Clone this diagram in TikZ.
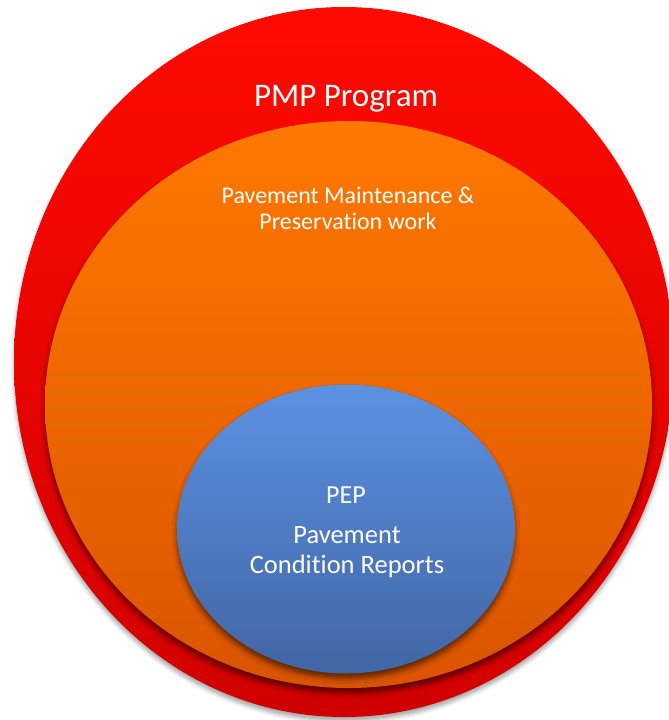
\documentclass[tikz,border=0pt]{standalone}
\usepackage{fontspec}
\setmainfont[Ligatures=NoCommon]{Carlito}
\usetikzlibrary{shadows.blur}

\definecolor{redtop}{HTML}{FF0A00}
\definecolor{redbot}{HTML}{D00000}
\definecolor{orgtop}{HTML}{FF7800}
\definecolor{orgbot}{HTML}{DA5400}
\definecolor{bluetop}{HTML}{5C91E2}
\definecolor{bluebot}{HTML}{4166A5}

\tikzset{
  disc/.style={draw=none},
  label text/.style={text=white, align=center, inner sep=0pt},
}

\begin{document}
\begin{tikzpicture}[x=1pt, y=-1pt]
  \useasboundingbox (0,0) rectangle (669,720);

  % outer programme disc
  \path[disc, top color=redtop, bottom color=redbot,
        blur shadow={shadow xshift=0pt, shadow yshift=-4pt, shadow blur radius=4pt, shadow opacity=35}]
    (344,362) ellipse [x radius=330, y radius=355];
  \coordinate (outer) at (344,362);

  % maintenance & preservation disc
  \path[disc, top color=orgtop, bottom color=orgbot,
        blur shadow={shadow xshift=0pt, shadow yshift=-5pt, shadow blur radius=5pt, shadow opacity=55}]
    (348.5,404.5) ellipse [x radius=303.5, y radius=283.5];
  \coordinate (middle) at (348.5,404.5);

  % condition report disc
  \path[disc, top color=bluetop, bottom color=bluebot,
        blur shadow={shadow xshift=0pt, shadow yshift=-5pt, shadow blur radius=5pt, shadow opacity=55}]
    (346,529) ellipse [x radius=169, y radius=144.5];
  \coordinate (inner) at (346,529);

  % labels
  \node[label text, font=\fontsize{33}{38}\selectfont] (pmp) at (346,99) {PMP Program};
  \node[label text, font=\fontsize{24}{26}\selectfont] (pmw) at (348,208)
    {Pavement Maintenance \&\\Preservation work};
  \node[label text, font=\fontsize{26}{30}\selectfont] (pep) at (346,495) {PEP};
  \node[label text, font=\fontsize{26.5}{30}\selectfont] (pcr) at (347,552)
    {Pavement\\Condition Reports};
\end{tikzpicture}
\end{document}
